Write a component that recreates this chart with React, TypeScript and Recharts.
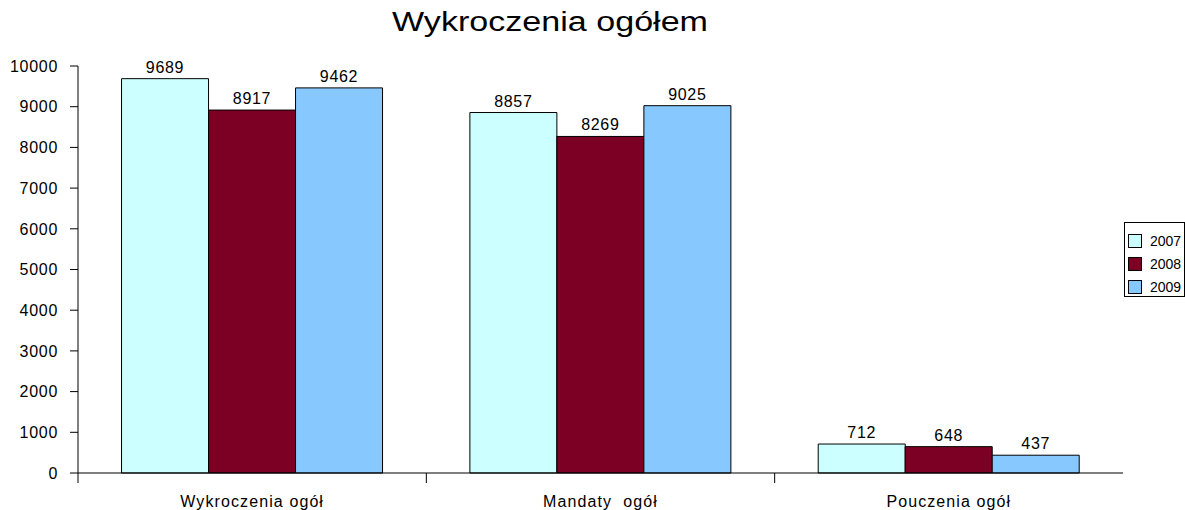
import { Bar, BarChart, LabelList, XAxis, YAxis } from "recharts";

const categories = ["Wykroczenia ogół", "Mandaty  ogół", "Pouczenia ogół"];
const values2007 = [9689, 8857, 712];
const values2008 = [8917, 8269, 648];
const values2009 = [9462, 9025, 437];
const yTicks = [0, 1000, 2000, 3000, 4000, 5000, 6000, 7000, 8000, 9000, 10000];

const W = 1185;
const H = 510;
const margin = { top: 66, right: 62, left: 0, bottom: 0 };
const yAxisWidth = 78;
const xAxisHeight = 37;
const bandWidth = (W - margin.left - margin.right - yAxisWidth) / categories.length;
const font = "'Liberation Sans', Arial, sans-serif";

const data = categories.map((name, i) => ({
  name,
  "2007": values2007[i],
  "2008": values2008[i],
  "2009": values2009[i],
}));

const series = [
  { key: "2007", color: "#CCFFFF" },
  { key: "2008", color: "#7B0024" },
  { key: "2009", color: "#87C9FF" },
];

function XTick(props: any) {
  const { x, y, payload, index } = props;
  const half = bandWidth / 2;
  return (
    <g>
      {index === 0 && <line x1={x - half} x2={x - half} y1={y} y2={y + 10} stroke="#000" />}
      {index < categories.length - 1 && (
        <line x1={x + half} x2={x + half} y1={y} y2={y + 10} stroke="#000" />
      )}
      <text
        x={x}
        y={y + 34}
        textAnchor="middle"
        fontSize={16}
        fontFamily={font}
        fill="#000"
        style={{ whiteSpace: "pre", letterSpacing: 1.1 }}
      >
        {payload.value}
      </text>
    </g>
  );
}

function YTick(props: any) {
  const { x, y, payload } = props;
  return (
    <text
      x={x}
      y={y}
      dy="0.36em"
      textAnchor="end"
      fontSize={16}
      fontFamily={font}
      fill="#000"
      style={{ letterSpacing: 0.7 }}
    >
      {payload.value}
    </text>
  );
}

function BarLabel(props: any) {
  const { x, y, width, value } = props;
  return (
    <text
      x={x + width / 2}
      y={y - 6}
      textAnchor="middle"
      fontSize={16}
      fontFamily={font}
      fill="#000"
      style={{ letterSpacing: 0.7 }}
    >
      {value}
    </text>
  );
}

function LegendBox() {
  return (
    <div
      style={{
        position: "absolute",
        left: 1124,
        top: 222,
        border: "1px solid #000",
        boxSizing: "border-box",
        width: 61,
        height: 75,
        paddingTop: 6,
        paddingLeft: 3,
        fontFamily: font,
        fontSize: 14,
        background: "#fff",
      }}
    >
      {series.map((s) => (
        <div key={s.key} style={{ display: "flex", alignItems: "center", height: 23 }}>
          <span
            style={{
              display: "inline-block",
              width: 14,
              height: 14,
              boxSizing: "border-box",
              border: "1px solid #000",
              background: s.color,
              marginRight: 8,
            }}
          />
          <span>{s.key}</span>
        </div>
      ))}
    </div>
  );
}

export default function App() {
  return (
    <div style={{ position: "absolute", left: 0, top: 0, width: W, height: H, background: "#fff" }}>
      <svg width={W} height={50} style={{ position: "absolute", left: 0, top: 0 }}>
        <text
          x={550}
          y={31}
          textAnchor="middle"
          fontSize={27}
          fontFamily={font}
          fill="#000"
          textLength={316}
          lengthAdjust="spacingAndGlyphs"
        >
          Wykroczenia ogółem
        </text>
      </svg>
      <BarChart
        width={W}
        height={H}
        data={data}
        margin={margin}
        barCategoryGap="12.5%"
        barGap={0}
        style={{ position: "absolute", left: 0, top: 0 }}
      >
        <XAxis
          dataKey="name"
          height={xAxisHeight}
          axisLine={{ stroke: "#000" }}
          tickLine={false}
          tickSize={0}
          tickMargin={0}
          tick={<XTick />}
          interval={0}
        />
        <YAxis
          width={yAxisWidth}
          domain={[0, 10000]}
          ticks={yTicks}
          interval={0}
          axisLine={{ stroke: "#000" }}
          tickLine={{ stroke: "#000" }}
          tickSize={8}
          tickMargin={12}
          tick={<YTick />}
        />
        {series.map((s) => (
          <Bar
            key={s.key}
            dataKey={s.key}
            fill={s.color}
            stroke="#000"
            strokeWidth={1}
            isAnimationActive={false}
          >
            <LabelList dataKey={s.key} content={<BarLabel />} />
          </Bar>
        ))}
      </BarChart>
      <LegendBox />
    </div>
  );
}
